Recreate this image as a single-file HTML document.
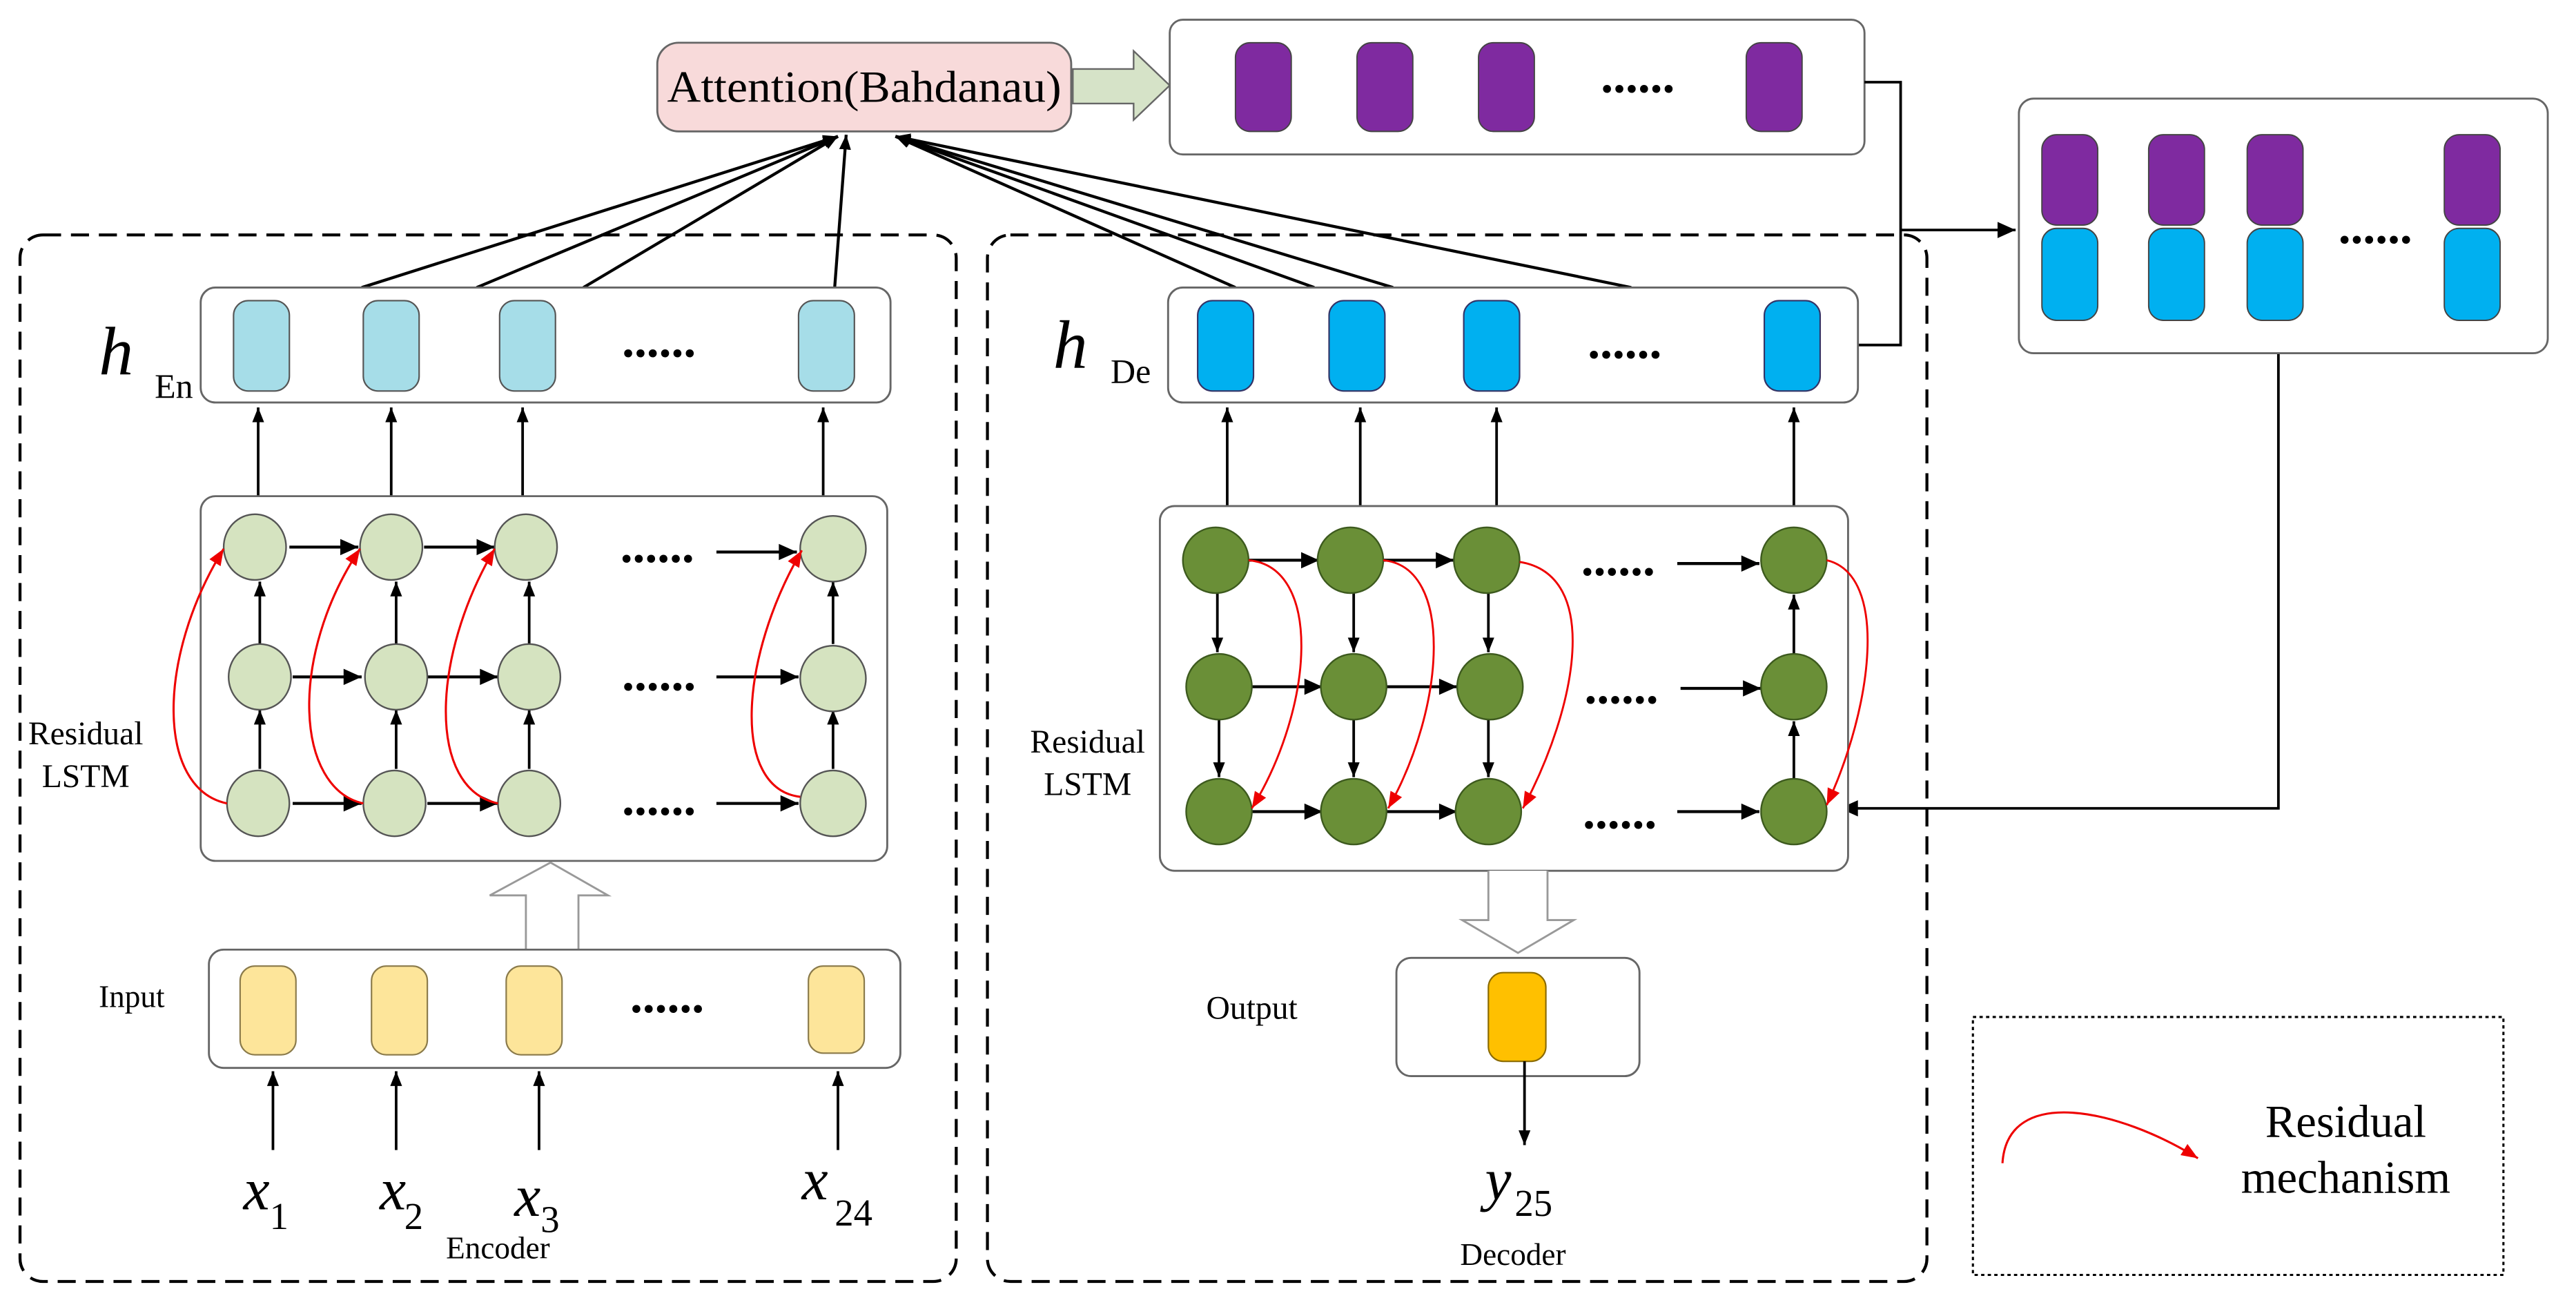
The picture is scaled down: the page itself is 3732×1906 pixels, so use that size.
<!DOCTYPE html>
<html><head><meta charset="utf-8"><style>
html,body{margin:0;padding:0;background:#fff;}
svg{display:block;font-family:"Liberation Serif","Times New Roman",serif;}
svg text{font-family:"Liberation Serif","Times New Roman",serif;fill:#000;}
</style></head><body>
<svg width="3732" height="1906" viewBox="0 0 1568 801" xmlns="http://www.w3.org/2000/svg" font-family="Liberation Serif, serif">
<defs>
<marker id="a" viewBox="0 0 10 10" refX="10" refY="5" markerWidth="9" markerHeight="9" orient="auto" markerUnits="userSpaceOnUse"><path d="M0,1 L10,5 L0,9 z" fill="#000"/></marker>
<marker id="ab" viewBox="0 0 10 10" refX="10" refY="5" markerWidth="13" markerHeight="11" orient="auto" markerUnits="userSpaceOnUse"><path d="M0,0.5 L10,5 L0,9.5 z" fill="#000"/></marker>
<marker id="r" viewBox="0 0 10 10" refX="10" refY="5" markerWidth="12" markerHeight="10" orient="auto" markerUnits="userSpaceOnUse"><path d="M0,1 L10,5 L0,9 z" fill="#e00"/></marker>
</defs>
<rect width="1568" height="801" fill="#fff"/>

<rect x="12" y="143" width="570" height="637" rx="14" fill="none" stroke="#000" stroke-width="1.8" stroke-dasharray="11,6"/>
<rect x="601" y="143" width="572" height="637" rx="14" fill="none" stroke="#000" stroke-width="1.8" stroke-dasharray="11,6"/>

<g stroke="#000" stroke-width="1.8" fill="none">
<line x1="220" y1="175" x2="510" y2="83" marker-end="url(#a)"/>
<line x1="290" y1="175" x2="510" y2="83" marker-end="url(#a)"/>
<line x1="355" y1="175" x2="510" y2="83" marker-end="url(#a)"/>
<line x1="508" y1="175" x2="515" y2="82" marker-end="url(#a)"/>
<line x1="752" y1="175" x2="545" y2="83" marker-end="url(#a)"/>
<line x1="800" y1="175" x2="545" y2="83" marker-end="url(#a)"/>
<line x1="848" y1="175" x2="545" y2="83" marker-end="url(#a)"/>
<line x1="993" y1="175" x2="545" y2="83" marker-end="url(#a)"/>
</g>

<rect x="400" y="26" width="252" height="54" rx="13" fill="#f8dada" stroke="#666" stroke-width="1.2"/>
<text x="526" y="62" font-size="27" text-anchor="middle" textLength="240" lengthAdjust="spacingAndGlyphs">Attention(Bahdanau)</text>
<path d="M653,42 L690,42 L690,31 L712,52 L690,73 L690,63 L653,63 z" fill="#d6e3c8" stroke="#666" stroke-width="1"/>

<rect x="712" y="12" width="423" height="82" rx="8" fill="#fff" stroke="#666" stroke-width="1.2"/>
<g fill="#7f2aa0" stroke="#444" stroke-width="0.8">
<rect x="752" y="26" width="34" height="54" rx="9"/>
<rect x="826" y="26" width="34" height="54" rx="9"/>
<rect x="900" y="26" width="34" height="54" rx="9"/>
<rect x="1063" y="26" width="34" height="54" rx="9"/>
</g>
<text x="997" y="56" font-size="30" font-weight="bold" text-anchor="middle">......</text>

<g stroke="#000" stroke-width="1.6" fill="none">
<polyline points="1135,50 1157,50 1157,210 1131,210"/>
<line x1="1157" y1="140" x2="1227" y2="140" marker-end="url(#ab)"/>
<polyline points="1387,215 1387,492 1120,492" marker-end="url(#ab)"/>
</g>

<rect x="1229" y="60" width="322" height="155" rx="9" fill="#fff" stroke="#666" stroke-width="1.2"/>
<g stroke="#444" stroke-width="0.8">
<rect x="1243" y="82" width="34" height="55" rx="9" fill="#7f2aa0"/>
<rect x="1308" y="82" width="34" height="55" rx="9" fill="#7f2aa0"/>
<rect x="1368" y="82" width="34" height="55" rx="9" fill="#7f2aa0"/>
<rect x="1488" y="82" width="34" height="55" rx="9" fill="#7f2aa0"/>
<rect x="1243" y="139" width="34" height="56" rx="9" fill="#00b0f0"/>
<rect x="1308" y="139" width="34" height="56" rx="9" fill="#00b0f0"/>
<rect x="1368" y="139" width="34" height="56" rx="9" fill="#00b0f0"/>
<rect x="1488" y="139" width="34" height="56" rx="9" fill="#00b0f0"/>
</g>
<text x="1446" y="148" font-size="30" font-weight="bold" text-anchor="middle">......</text>

<!-- ENCODER -->
<rect x="122" y="175" width="420" height="70" rx="9" fill="#fff" stroke="#666" stroke-width="1.2"/>
<g fill="#a6dde8" stroke="#555" stroke-width="0.9">
<rect x="142" y="183" width="34" height="55" rx="9"/>
<rect x="221" y="183" width="34" height="55" rx="9"/>
<rect x="304" y="183" width="34" height="55" rx="9"/>
<rect x="486" y="183" width="34" height="55" rx="9"/>
</g>
<text x="401" y="217" font-size="30" font-weight="bold" text-anchor="middle">......</text>
<text x="60" y="228" font-size="42" font-style="italic">h</text>
<text x="94" y="242" font-size="21">En</text>

<g stroke="#000" stroke-width="1.6">
<line x1="157" y1="302" x2="157" y2="248" marker-end="url(#a)"/>
<line x1="238" y1="302" x2="238" y2="248" marker-end="url(#a)"/>
<line x1="318" y1="302" x2="318" y2="248" marker-end="url(#a)"/>
<line x1="501" y1="302" x2="501" y2="248" marker-end="url(#a)"/>
</g>

<rect x="122" y="302" width="418" height="222" rx="9" fill="#fff" stroke="#666" stroke-width="1.2"/>
<g stroke="#000" stroke-width="1.8">
<line x1="176" y1="333" x2="218" y2="333" marker-end="url(#ab)"/>
<line x1="258" y1="333" x2="301" y2="333" marker-end="url(#ab)"/>
<line x1="436" y1="336" x2="485" y2="336" marker-end="url(#ab)"/>
<line x1="178" y1="412" x2="220" y2="412" marker-end="url(#ab)"/>
<line x1="260" y1="412" x2="303" y2="412" marker-end="url(#ab)"/>
<line x1="436" y1="412" x2="486" y2="412" marker-end="url(#ab)"/>
<line x1="178" y1="489" x2="220" y2="489" marker-end="url(#ab)"/>
<line x1="260" y1="489" x2="303" y2="489" marker-end="url(#ab)"/>
<line x1="436" y1="489" x2="486" y2="489" marker-end="url(#ab)"/>
</g>
<g stroke="#000" stroke-width="1.6">
<line x1="158" y1="392" x2="158" y2="354" marker-end="url(#a)"/>
<line x1="241" y1="392" x2="241" y2="354" marker-end="url(#a)"/>
<line x1="322" y1="392" x2="322" y2="354" marker-end="url(#a)"/>
<line x1="507" y1="392" x2="507" y2="354" marker-end="url(#a)"/>
<line x1="158" y1="468" x2="158" y2="432" marker-end="url(#a)"/>
<line x1="241" y1="468" x2="241" y2="432" marker-end="url(#a)"/>
<line x1="322" y1="468" x2="322" y2="432" marker-end="url(#a)"/>
<line x1="507" y1="468" x2="507" y2="432" marker-end="url(#a)"/>
</g>
<g fill="#d5e3c0" stroke="#555" stroke-width="1">
<ellipse cx="155" cy="333" rx="19" ry="20"/><ellipse cx="238" cy="333" rx="19" ry="20"/><ellipse cx="320" cy="333" rx="19" ry="20"/><ellipse cx="507" cy="334" rx="20" ry="20"/>
<ellipse cx="158" cy="412" rx="19" ry="20"/><ellipse cx="241" cy="412" rx="19" ry="20"/><ellipse cx="322" cy="412" rx="19" ry="20"/><ellipse cx="507" cy="413" rx="20" ry="20"/>
<ellipse cx="157" cy="489" rx="19" ry="20"/><ellipse cx="240" cy="489" rx="19" ry="20"/><ellipse cx="322" cy="489" rx="19" ry="20"/><ellipse cx="507" cy="489" rx="20" ry="20"/>
</g>
<g fill="none" stroke="#e00" stroke-width="1.3">
<path d="M138,489 C95,480 95,400 136,334" marker-end="url(#r)"/>
<path d="M221,489 C180,480 175,400 219,334" marker-end="url(#r)"/>
<path d="M303,489 C260,480 262,400 301,334" marker-end="url(#r)"/>
<path d="M487,485 C445,480 450,400 488,335" marker-end="url(#r)"/>
</g>
<g font-size="30" font-weight="bold" text-anchor="middle">
<text x="400" y="342">......</text><text x="401" y="420">......</text><text x="401" y="496">......</text>
</g>
<text x="52" y="453" font-size="20" text-anchor="middle">Residual</text>
<text x="52" y="479" font-size="20" text-anchor="middle">LSTM</text>

<path d="M320,578 L320,545 L298,545 L335,525 L370,545 L352,545 L352,578" fill="#fff" stroke="#999" stroke-width="1.2"/>

<rect x="127" y="578" width="421" height="72" rx="9" fill="#fff" stroke="#666" stroke-width="1.2"/>
<g fill="#fde59a" stroke="#8a7a4a" stroke-width="0.9">
<rect x="146" y="588" width="34" height="54" rx="9"/>
<rect x="226" y="588" width="34" height="54" rx="9"/>
<rect x="308" y="588" width="34" height="54" rx="9"/>
<rect x="492" y="588" width="34" height="53" rx="9"/>
</g>
<text x="406" y="616" font-size="30" font-weight="bold" text-anchor="middle">......</text>
<text x="80" y="613" font-size="19" text-anchor="middle">Input</text>
<g stroke="#000" stroke-width="1.6">
<line x1="166" y1="700" x2="166" y2="652" marker-end="url(#a)"/>
<line x1="241" y1="700" x2="241" y2="652" marker-end="url(#a)"/>
<line x1="328" y1="700" x2="328" y2="652" marker-end="url(#a)"/>
<line x1="510" y1="700" x2="510" y2="652" marker-end="url(#a)"/>
</g>
<g font-style="italic" font-size="36">
<text x="148" y="736">x</text><text x="231" y="736">x</text><text x="313" y="740">x</text><text x="488" y="730">x</text>
</g>
<g font-size="23">
<text x="164" y="748">1</text><text x="246" y="748">2</text><text x="329" y="750">3</text><text x="508" y="746">24</text>
</g>
<text x="303" y="766" font-size="19" text-anchor="middle">Encoder</text>

<!-- DECODER -->
<rect x="711" y="175" width="420" height="70" rx="9" fill="#fff" stroke="#666" stroke-width="1.2"/>
<g fill="#00b0f0" stroke="#336" stroke-width="0.9">
<rect x="729" y="183" width="34" height="55" rx="9"/>
<rect x="809" y="183" width="34" height="55" rx="9"/>
<rect x="891" y="183" width="34" height="55" rx="9"/>
<rect x="1074" y="183" width="34" height="55" rx="9"/>
</g>
<text x="989" y="218" font-size="30" font-weight="bold" text-anchor="middle">......</text>
<text x="641" y="224" font-size="42" font-style="italic">h</text>
<text x="676" y="233" font-size="21">De</text>

<g stroke="#000" stroke-width="1.6">
<line x1="747" y1="308" x2="747" y2="248" marker-end="url(#a)"/>
<line x1="828" y1="308" x2="828" y2="248" marker-end="url(#a)"/>
<line x1="911" y1="308" x2="911" y2="248" marker-end="url(#a)"/>
<line x1="1092" y1="308" x2="1092" y2="248" marker-end="url(#a)"/>
</g>

<rect x="706" y="308" width="419" height="222" rx="9" fill="#fff" stroke="#666" stroke-width="1.2"/>
<g stroke="#000" stroke-width="1.8">
<line x1="760" y1="341" x2="803" y2="341" marker-end="url(#ab)"/>
<line x1="842" y1="341" x2="885" y2="341" marker-end="url(#ab)"/>
<line x1="1021" y1="343" x2="1071" y2="343" marker-end="url(#ab)"/>
<line x1="762" y1="418" x2="805" y2="418" marker-end="url(#ab)"/>
<line x1="844" y1="418" x2="887" y2="418" marker-end="url(#ab)"/>
<line x1="1023" y1="419" x2="1072" y2="419" marker-end="url(#ab)"/>
<line x1="762" y1="494" x2="805" y2="494" marker-end="url(#ab)"/>
<line x1="844" y1="494" x2="887" y2="494" marker-end="url(#ab)"/>
<line x1="1021" y1="494" x2="1071" y2="494" marker-end="url(#ab)"/>
</g>
<g stroke="#000" stroke-width="1.6">
<line x1="741" y1="361" x2="741" y2="397" marker-end="url(#a)"/>
<line x1="824" y1="361" x2="824" y2="397" marker-end="url(#a)"/>
<line x1="906" y1="361" x2="906" y2="397" marker-end="url(#a)"/>
<line x1="742" y1="438" x2="742" y2="473" marker-end="url(#a)"/>
<line x1="824" y1="438" x2="824" y2="473" marker-end="url(#a)"/>
<line x1="906" y1="438" x2="906" y2="473" marker-end="url(#a)"/>
<line x1="1092" y1="398" x2="1092" y2="362" marker-end="url(#a)"/>
<line x1="1092" y1="474" x2="1092" y2="439" marker-end="url(#a)"/>
</g>
<g fill="#6a8f37" stroke="#3d5a1e" stroke-width="1">
<ellipse cx="740" cy="341" rx="20" ry="20"/><ellipse cx="822" cy="341" rx="20" ry="20"/><ellipse cx="905" cy="341" rx="20" ry="20"/><ellipse cx="1092" cy="341" rx="20" ry="20"/>
<ellipse cx="742" cy="418" rx="20" ry="20"/><ellipse cx="824" cy="418" rx="20" ry="20"/><ellipse cx="907" cy="418" rx="20" ry="20"/><ellipse cx="1092" cy="418" rx="20" ry="20"/>
<ellipse cx="742" cy="494" rx="20" ry="20"/><ellipse cx="824" cy="494" rx="20" ry="20"/><ellipse cx="906" cy="494" rx="20" ry="20"/><ellipse cx="1092" cy="494" rx="20" ry="20"/>
</g>
<g fill="none" stroke="#e00" stroke-width="1.2">
<path d="M760,341 C805,345 800,430 762,492" marker-end="url(#r)"/>
<path d="M842,341 C885,345 880,430 845,492" marker-end="url(#r)"/>
<path d="M925,342 C975,350 960,430 927,492" marker-end="url(#r)"/>
<path d="M1112,341 C1150,350 1140,430 1112,490" marker-end="url(#r)"/>
</g>
<g font-size="30" font-weight="bold" text-anchor="middle">
<text x="985" y="350">......</text><text x="987" y="428">......</text><text x="986" y="504">......</text>
</g>
<text x="662" y="458" font-size="20" text-anchor="middle">Residual</text>
<text x="662" y="484" font-size="20" text-anchor="middle">LSTM</text>

<path d="M906,530 L906,560 L890,560 L924,580 L958,560 L942,560 L942,530" fill="#fff" stroke="#999" stroke-width="1.2"/>
<rect x="850" y="583" width="148" height="72" rx="9" fill="#fff" stroke="#666" stroke-width="1.2"/>
<rect x="906" y="592" width="35" height="54" rx="9" fill="#ffc000" stroke="#8a6a00" stroke-width="0.9"/>
<line x1="928" y1="646" x2="928" y2="697" stroke="#000" stroke-width="1.6" marker-end="url(#a)"/>
<text x="762" y="620" font-size="20" text-anchor="middle">Output</text>
<text x="904" y="730" font-size="36" font-style="italic">y</text>
<text x="922" y="740" font-size="23">25</text>
<text x="921" y="770" font-size="19" text-anchor="middle">Decoder</text>

<rect x="1201" y="619" width="323" height="157" fill="none" stroke="#000" stroke-width="1.3" stroke-dasharray="2,2"/>
<path d="M1219,708 C1222,660 1290,675 1338,705" fill="none" stroke="#e00" stroke-width="1.3" marker-end="url(#r)"/>
<text x="1428" y="692" font-size="28" text-anchor="middle">Residual</text>
<text x="1428" y="726" font-size="28" text-anchor="middle">mechanism</text>
</svg>
</body></html>
